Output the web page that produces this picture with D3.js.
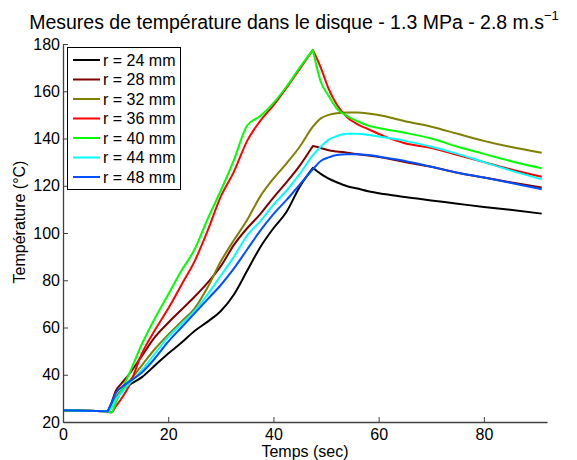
<!DOCTYPE html>
<html><head><meta charset="utf-8">
<script src="https://cdn.jsdelivr.net/npm/d3@7"></script>
<style>
html,body{margin:0;padding:0;background:#fff;}
svg{display:block;font-family:"Liberation Sans",Arial,sans-serif;}
</style></head>
<body>
<svg id="chart" width="577" height="460"></svg>
<script>
const time = [0, 8.5, 9.2, 10, 11, 12.5, 15, 17.5, 20, 22.5, 25, 27.5, 30, 32.5, 35, 37.5, 40, 42.5, 45, 47.5, 49, 50.5, 52, 54, 56, 58, 61, 65, 70, 75, 80, 85, 91];

const r24 = [25, 24.5, 27, 30, 33, 35.5, 39, 44, 49, 53.5, 58.5, 62.5, 67, 74, 84, 94, 102, 109, 119.6, 127.6, 125, 123, 121.5, 119.8, 118.8, 117.7, 116.5, 115.2, 113.8, 112.4, 111, 109.8, 108.2];
const r28 = [25, 24.5, 28, 33, 36, 40, 48, 56, 62, 67.5, 73, 79, 86, 95, 102, 108, 115, 121.5, 128.5, 136.8, 136, 135, 134.5, 134, 133.3, 132.8, 131.8, 130, 128, 125.5, 123.5, 121.5, 119.3];
const r32 = [25, 24.5, 26, 30, 33, 37, 44, 51, 57, 62.5, 68, 77, 88, 97, 105.5, 115.5, 123, 129.5, 136.5, 145, 148.5, 150, 150.7, 151, 151, 150.6, 149.5, 147.3, 145, 142, 139, 136.5, 134];
const r36 = [25, 24.5, 24, 26.5, 29.5, 35, 49, 59, 68, 78, 88, 101, 115.5, 126, 139, 147.5, 154, 161.5, 169.5, 177.5, 170, 161, 154.5, 149, 146, 144, 141, 138, 136, 133, 130, 127, 123.8];
const r40 = [25, 24.5, 24, 28, 33, 40, 53, 64, 74, 84, 93, 106, 118, 131, 145.5, 149.5, 155, 162, 170, 177.5, 164, 158, 152.8, 149.5, 147.3, 145.5, 144, 142.4, 140, 136.5, 133.5, 130.5, 127.4];
const r44 = [25, 24.5, 26, 29.5, 32, 36, 42, 49, 56, 61.5, 67, 74, 82, 90, 99, 105, 112, 118, 125, 133, 136.5, 139.5, 141, 142, 142, 141.5, 140.5, 139, 136.5, 133.5, 130, 126.5, 122.7];
const r48 = [25, 24.5, 28, 32, 34.5, 37, 41, 47, 54, 60, 66, 72, 78, 85, 93, 101, 108, 114, 120.5, 127, 130.5, 132, 133, 133.3, 133.3, 133, 132, 130.5, 128, 125.5, 123.5, 121.3, 118.5];

const seriesNames = ["r = 24 mm", "r = 28 mm", "r = 32 mm", "r = 36 mm", "r = 40 mm", "r = 44 mm", "r = 48 mm"];
const seriesValues = [r24, r28, r32, r36, r40, r44, r48];
const seriesColors = ["#000000", "#800000", "#808000", "#ff0000", "#00ff00", "#00ffff", "#0050ff"];
const sharpPeak = [true, true, false, true, true, false, false];
const xTicks = [0, 20, 40, 60, 80];
const yTicks = [20, 40, 60, 80, 100, 120, 140, 160, 180];

const svg = d3.select("#chart");
const L = 63, R = 547, T = 44, B = 422;
const x = d3.scaleLinear().domain([0, 92]).range([L, R]);
const y = d3.scaleLinear().domain([20, 180]).range([B, T]);

// title
const title = svg.append("text").attr("x", 294).attr("y", 29).attr("text-anchor", "middle")
  .attr("font-size", 19.5).attr("fill", "#000");
title.append("tspan").text("Mesures de température dans le disque - 1.3 MPa - 2.8 m.s");
title.append("tspan").attr("dy", -9).attr("font-size", 13).text("\u22121");

// lines (split at sharp break points so corners stay sharp)
const line = d3.line().x(d => x(d[0])).y(d => y(d[1])).curve(d3.curveMonotoneX);
seriesValues.forEach((vals, k) => {
  const pts = vals.map((v, i) => [time[i], v]);
  const knee = 1; // end of flat start
  const peak = d3.maxIndex(vals);
  const breaks = [0, knee];
  if (sharpPeak[k]) breaks.push(peak);
  breaks.push(pts.length - 1);
  let d = "";
  for (let b = 0; b < breaks.length - 1; b++) {
    const seg = pts.slice(breaks[b], breaks[b + 1] + 1);
    const sd = line(seg);
    d += b === 0 ? sd : "L" + sd.slice(1);
  }
  svg.append("path").attr("d", d)
    .attr("fill", "none").attr("stroke", seriesColors[k]).attr("stroke-width", 2)
    .attr("stroke-linejoin", "round");
});

// axes
const xAxis = d3.axisBottom(x).tickValues(xTicks).tickSizeInner(-5).tickSizeOuter(0).tickPadding(10);
const gx = svg.append("g").attr("transform", `translate(0,${B})`).call(xAxis);
const yAxis = d3.axisLeft(y).tickValues(yTicks).tickSizeInner(-5).tickSizeOuter(0).tickPadding(8);
const gy = svg.append("g").attr("transform", `translate(${L},0)`).call(yAxis);
[gx, gy].forEach(g => {
  g.attr("font-family", "'Liberation Sans', Arial, sans-serif");
  g.select(".domain").attr("stroke", "#404040").attr("stroke-width", 1.3);
  g.selectAll(".tick line").attr("stroke", "#404040");
  g.selectAll(".tick text").attr("font-size", 16).attr("fill", "#000");
});
gy.selectAll(".tick text").attr("dx", 5);
gx.selectAll(".tick text").attr("dy", "0.5em");

// axis labels
svg.append("text").attr("x", 305).attr("y", 457).attr("text-anchor", "middle")
  .attr("font-size", 16).text("Temps (sec)");
svg.append("text").attr("transform", "translate(25,222) rotate(-90)").attr("text-anchor", "middle")
  .attr("font-size", 16).text("Température (°C)");

// legend
const lg = svg.append("g");
lg.append("rect").attr("x", 67.5).attr("y", 47.5).attr("width", 113).attr("height", 142)
  .attr("fill", "#fff").attr("stroke", "#000").attr("stroke-width", 1);
seriesNames.forEach((name, k) => {
  const yy = 60 + k * 19.5;
  lg.append("line").attr("x1", 73).attr("x2", 100).attr("y1", yy).attr("y2", yy)
    .attr("stroke", seriesColors[k]).attr("stroke-width", 2);
  lg.append("text").attr("x", 103).attr("y", yy + 5.5).attr("font-size", 16).text(name);
});
</script>
</body></html>
